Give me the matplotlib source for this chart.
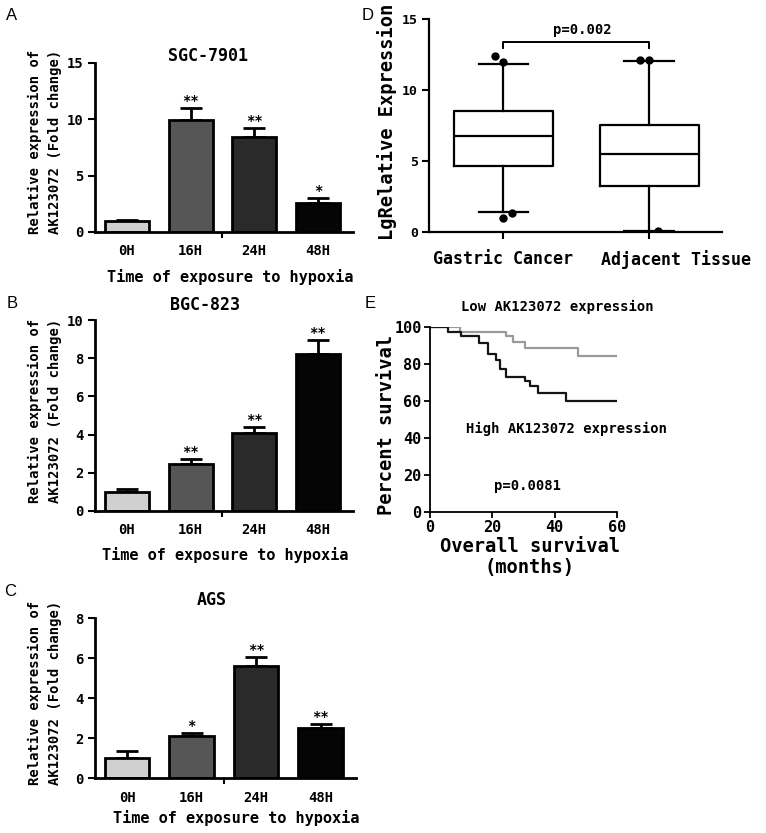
import matplotlib
matplotlib.use('Agg')
import matplotlib.pyplot as plt
import matplotlib.transforms as mtransforms
import numpy as np

W, H = 766, 833

def box(left, top, right, bottom):
    # pixel rectangle -> figure fraction
    return [left / W, 1 - bottom / H, (right - left) / W, (bottom - top) / H]

def px(x, y):
    return x / W, 1 - y / H

plt.rcParams['font.family'] = ['DejaVu Sans Mono']
plt.rcParams['font.weight'] = 'bold'

# bar panels A-C
hours = ['0H', '16H', '24H', '48H']
bar_colors = ['#d0d0d0', '#565656', '#2a2a2a', '#050505']

sgc_mean = [1.0, 9.9, 8.4, 2.6]
sgc_err = [0.1, 1.1, 0.8, 0.4]
sgc_stars = ['', '**', '**', '*']

bgc_mean = [1.0, 2.45, 4.1, 8.2]
bgc_err = [0.15, 0.25, 0.3, 0.75]
bgc_stars = ['', '**', '**', '**']

ags_mean = [1.0, 2.1, 5.6, 2.5]
ags_err = [0.35, 0.15, 0.45, 0.2]
ags_stars = ['', '*', '**', '**']

# panel D box stats
groups = ['Gastric Cancer', 'Adjacent Tissue']
box_whislo = [1.39, 0.07]
box_q1 = [4.66, 3.25]
box_med = [6.73, 5.46]
box_q3 = [8.5, 7.5]
box_whishi = [11.81, 12.05]
gastric_fliers = [12.4, 11.97, 1.01, 1.36]
gastric_jitter = [-0.06, 0.0, 0.0, 0.06]
adjacent_fliers = [12.1, 12.1, 0.1]
adjacent_jitter = [-0.06, 0.0, 0.06]

# panel E Kaplan-Meier steps
low_t = [0, 9.6, 24.5, 26.6, 30.6, 47.4, 59.6]
low_s = [100, 97.4, 95.0, 91.9, 88.8, 84.2, 84.2]
high_t = [0, 5.9, 9.9, 15.7, 18.6, 21.3, 22.4, 24.5, 30.4, 32.0, 34.6, 43.7, 59.6]
high_s = [100, 97.4, 95.0, 91.3, 85.5, 81.9, 77.3, 73.1, 70.9, 68.1, 64.5, 60.0, 60.0]

fig = plt.figure(figsize=(W / 100, H / 100), dpi=100)


def style_axes(ax, lw=1.6):
    for side in ['top', 'right']:
        ax.spines[side].set_visible(False)
    for side in ['left', 'bottom']:
        ax.spines[side].set_linewidth(lw)


def bar_panel(rect, means, errs, stars, ymax, ystep, title, title_xy,
              ylab_xy, xlab_xy):
    ax = fig.add_axes(box(*rect))
    x = np.arange(len(hours))
    ax.errorbar(x, means, yerr=[np.zeros(len(errs)), errs], fmt='none',
                ecolor='black', elinewidth=2, capsize=8, capthick=2, zorder=1)
    ax.bar(x, means, width=0.69, color=bar_colors, edgecolor='black',
           linewidth=2, zorder=2)
    for xi, m, e, s in zip(x, means, errs, stars):
        if s:
            ax.annotate(s, (xi, m + e), xytext=(0, 0), textcoords='offset points',
                        ha='center', va='bottom', fontsize=10)
    ax.set_xlim(-0.5, 3.55)
    ax.set_ylim(0, ymax)
    ax.set_yticks(np.arange(0, ymax + 0.01, ystep))
    ax.set_xticks(x)
    ax.set_xticklabels(hours, fontsize=10)
    ax.set_xticks([1.5], minor=True)
    ax.tick_params(axis='x', which='major', length=0, pad=9)
    ax.tick_params(axis='x', which='minor', length=4, width=1.5, direction='out')
    ax.tick_params(axis='y', length=5, width=1.5, direction='out', labelsize=10, pad=3)
    style_axes(ax, 2)
    fig.text(*px(*title_xy), title, ha='center', va='center', fontsize=12)
    fig.text(*px(*ylab_xy), 'Relative expression of\nAK123072 (Fold change)',
             rotation=90, ha='center', va='center', fontsize=10, linespacing=1.6)
    fig.text(*px(*xlab_xy), 'Time of exposure to hypoxia', ha='center',
             va='center', fontsize=11)
    return ax


bar_panel((95, 63, 353, 232), sgc_mean, sgc_err, sgc_stars, 15, 5, 'SGC-7901',
          (208, 56), (45, 142), (230, 277))
bar_panel((95, 320, 353, 511), bgc_mean, bgc_err, bgc_stars, 10, 2, 'BGC-823',
          (205, 305), (45, 411), (225, 555))
bar_panel((95, 618, 356, 778), ags_mean, ags_err, ags_stars, 8, 2, 'AGS',
          (212, 600), (45, 693), (236, 818))

# panel D
axd = fig.add_axes(box(429, 19, 722, 232))
stats = []
for i in range(len(groups)):
    stats.append(dict(whislo=box_whislo[i], q1=box_q1[i], med=box_med[i],
                      q3=box_q3[i], whishi=box_whishi[i], fliers=[]))
pos = [1, 2]
lineprops = dict(color='black', linewidth=1.6)
axd.bxp(stats, positions=pos, widths=0.68, showfliers=False,
        boxprops=lineprops, whiskerprops=lineprops, capprops=lineprops,
        medianprops=lineprops)
axd.plot(np.array(gastric_jitter) + pos[0], gastric_fliers, 'o', color='black',
         markersize=5)
axd.plot(np.array(adjacent_jitter) + pos[1], adjacent_fliers, 'o', color='black',
         markersize=5)
axd.plot([1, 1, 2, 2], [12.98, 13.4, 13.4, 12.98], color='black', linewidth=1.4)
axd.text(1.54, 14.2, 'p=0.002', ha='center', va='center', fontsize=10)
axd.set_xlim(0.49, 2.5)
axd.set_ylim(0, 15)
axd.set_yticks([0, 5, 10, 15])
axd.set_xticks(pos)
axd.set_xticklabels(groups, fontsize=12)
axd.tick_params(axis='x', length=5, width=1.5, pad=8)
axd.tick_params(axis='y', length=5, width=1.5, labelsize=9.5, pad=3)
# second group label sits a little right of its tick in the original
lbl = axd.get_xticklabels()[1]
lbl.set_transform(lbl.get_transform() +
                  mtransforms.ScaledTranslation(0.27, 0, fig.dpi_scale_trans))
style_axes(axd)
fig.text(*px(387, 122), 'LgRelative Expression', rotation=90, ha='center',
         va='center', fontsize=13.5)

# panel E
axe = fig.add_axes(box(430, 327, 617, 512))
axe.plot(low_t, low_s, drawstyle='steps-post', color='#9a9a9a', linewidth=1.6)
axe.plot(high_t, high_s, drawstyle='steps-post', color='#151515', linewidth=1.6)
axe.set_xlim(0, 60)
axe.set_ylim(0, 100)
axe.set_xticks([0, 20, 40, 60])
axe.set_yticks([0, 20, 40, 60, 80, 100])
axe.tick_params(axis='both', length=4, width=1.3, labelsize=11, pad=2)
style_axes(axe, 1.3)
axe.text(0.68, 1.11, 'Low AK123072 expression', transform=axe.transAxes,
         ha='center', va='center', fontsize=10)
axe.text(0.73, 0.45, 'High AK123072 expression', transform=axe.transAxes,
         ha='center', va='center', fontsize=10)
axe.text(0.52, 0.14, 'p=0.0081', transform=axe.transAxes,
         ha='center', va='center', fontsize=10)
fig.text(*px(530, 557), 'Overall survival\n(months)', ha='center', va='center',
         fontsize=13.5, linespacing=1.1)
fig.text(*px(387, 425), 'Percent survival', rotation=90, ha='center',
         va='center', fontsize=13.5)

# panel letters
for letter, xy in [('A', (12, 15)), ('B', (12, 303)), ('C', (10, 592)),
                   ('D', (368, 15)), ('E', (370, 303))]:
    fig.text(*px(*xy), letter, ha='center', va='center', fontsize=12,
             family='Liberation Sans', weight='normal')

fig.savefig('out.png', dpi=100)
